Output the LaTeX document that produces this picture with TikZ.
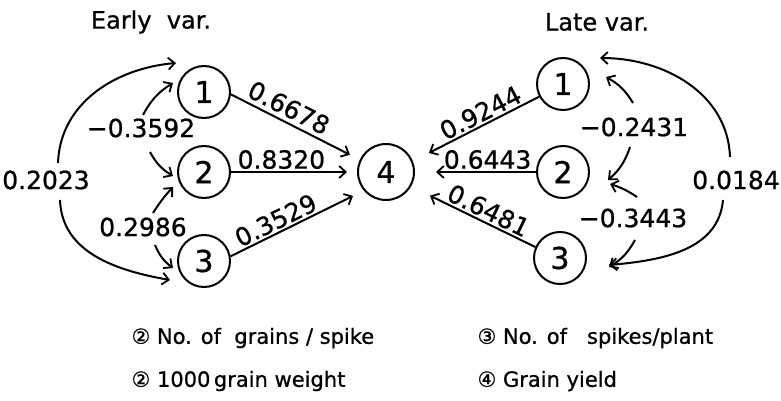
\documentclass[tikz,border=0pt]{standalone}
\usepackage{fontspec}
\setmainfont[FakeBold=0.8]{DejaVu Sans}
\usetikzlibrary{arrows.meta}
\begin{document}
\begin{tikzpicture}[x=1pt,y=-1pt,
  var/.style={circle,draw,line width=2pt,minimum size=52pt,inner sep=0pt,font=\fontsize{30}{30}\selectfont},
  yieldnode/.style={var,minimum size=56pt},
  arr/.style={line width=2pt,-{Straight Barb[length=6.5pt,width=12pt,line width=1.8pt]}},
  coef/.style={font=\fontsize{25}{25}\selectfont,inner sep=2pt},
  title/.style={font=\fontsize{24}{24}\selectfont},
  legend/.style={font=\fontsize{21}{21}\selectfont,anchor=west}]
\useasboundingbox (0,0) rectangle (781,401);

% titles
\node[title] (tE) at (151,22) {Early\ \ var.};
\node[title] (tL) at (597,22) {Late var.};

% variables
\node[var] (L1) at (204,92) {1};
\node[var] (L2) at (204,172) {2};
\node[var] (L3) at (204,261) {3};
\node[yieldnode] (C4) at (386,172) {4};
\node[var] (R1) at (563,84) {1};
\node[var] (R2) at (563,172) {2};
\node[var] (R3) at (560,258) {3};

% direct paths, early variety
\draw[arr,shorten >=11pt] (L1.-5) -- node[coef,sloped,above=2pt,pos=0.4] {0.6678} (C4.155);
\draw[arr,shorten >=10pt] (L2) -- node[coef,above,pos=0.4] {0.8320} (C4);
\draw[arr,shorten >=12pt] (L3.10) -- node[coef,sloped,above,pos=0.38] {0.3529} (C4.220);

% direct paths, late variety
\draw[arr,shorten >=18pt] (R1.208) -- node[coef,sloped,above,pos=0.42] {0.9244} (C4.22);
\draw[arr,shorten >=21pt] (R2) -- node[coef,above,pos=0.4] {0.6443} (C4);
\draw[arr,shorten >=21pt] (R3.156) -- node[coef,sloped,above,pos=0.42] {0.6481} (C4.-30);

% correlations, early variety
\node[coef] (e13) at (46,180) {0.2023};
\node[coef] (e12) at (141,128) {−0.3592};
\node[coef] (e23) at (143,227) {0.2986};
\coordinate (e13a) at (58,163);  \coordinate (e13b) at (176,63);
\coordinate (e13c) at (60,200);  \coordinate (e13d) at (170,280);
\coordinate (e12a) at (143,115); \coordinate (e12b) at (173,83);
\coordinate (e12c) at (150,152); \coordinate (e12d) at (173,176);
\coordinate (e23a) at (153,213); \coordinate (e23b) at (173,187);
\coordinate (e23c) at (155,245); \coordinate (e23d) at (173,268);
\draw[arr] (e13a) to[out=88,in=185] (e13b);
\draw[arr] (e13c) to[out=-88,in=170] (e13d);
\draw[arr] (e12a) to[bend left=15] (e12b);
\draw[arr] (e12c) to[bend right=15] (e12d);
\draw[arr] (e23a) to[bend left=5] (e23b);
\draw[arr] (e23c) to[bend right=15] (e23d);

% correlations, late variety
\node[coef] (l13) at (736,180) {0.0184};
\node[coef] (l12) at (634,127) {−0.2431};
\node[coef] (l23) at (633,218) {−0.3443};
\coordinate (l13a) at (730,157); \coordinate (l13b) at (600,58);
\coordinate (l13c) at (723,200); \coordinate (l13d) at (609,265);
\coordinate (l12a) at (633,103); \coordinate (l12b) at (606,77);
\coordinate (l12c) at (630,147); \coordinate (l12d) at (608,180);
\coordinate (l23a) at (637,197); \coordinate (l23b) at (610,184);
\coordinate (l23c) at (635,240); \coordinate (l23d) at (609,267);
\draw[arr] (l13a) to[out=92,in=0] (l13b);
\draw[arr] (l13c) to[out=-95,in=5] (l13d);
\draw[arr] (l12a) to[bend right=15] (l12b);
\draw[arr] (l12c) to[bend left=15] (l12d);
\draw[arr] (l23a) to[bend right=8] (l23b);
\draw[arr] (l23c) to[bend left=15] (l23d);

% key
\node[legend] (k1) at (128,338) {② No. of\ \ grains / spike};
\node[legend] (k2) at (128,381) {② 1000\,grain weight};
\node[legend] (k3) at (474,338) {③ No. of\ \ \ spikes/plant};
\node[legend] (k4) at (474,381) {④ Grain yield};
\end{tikzpicture}
\end{document}
